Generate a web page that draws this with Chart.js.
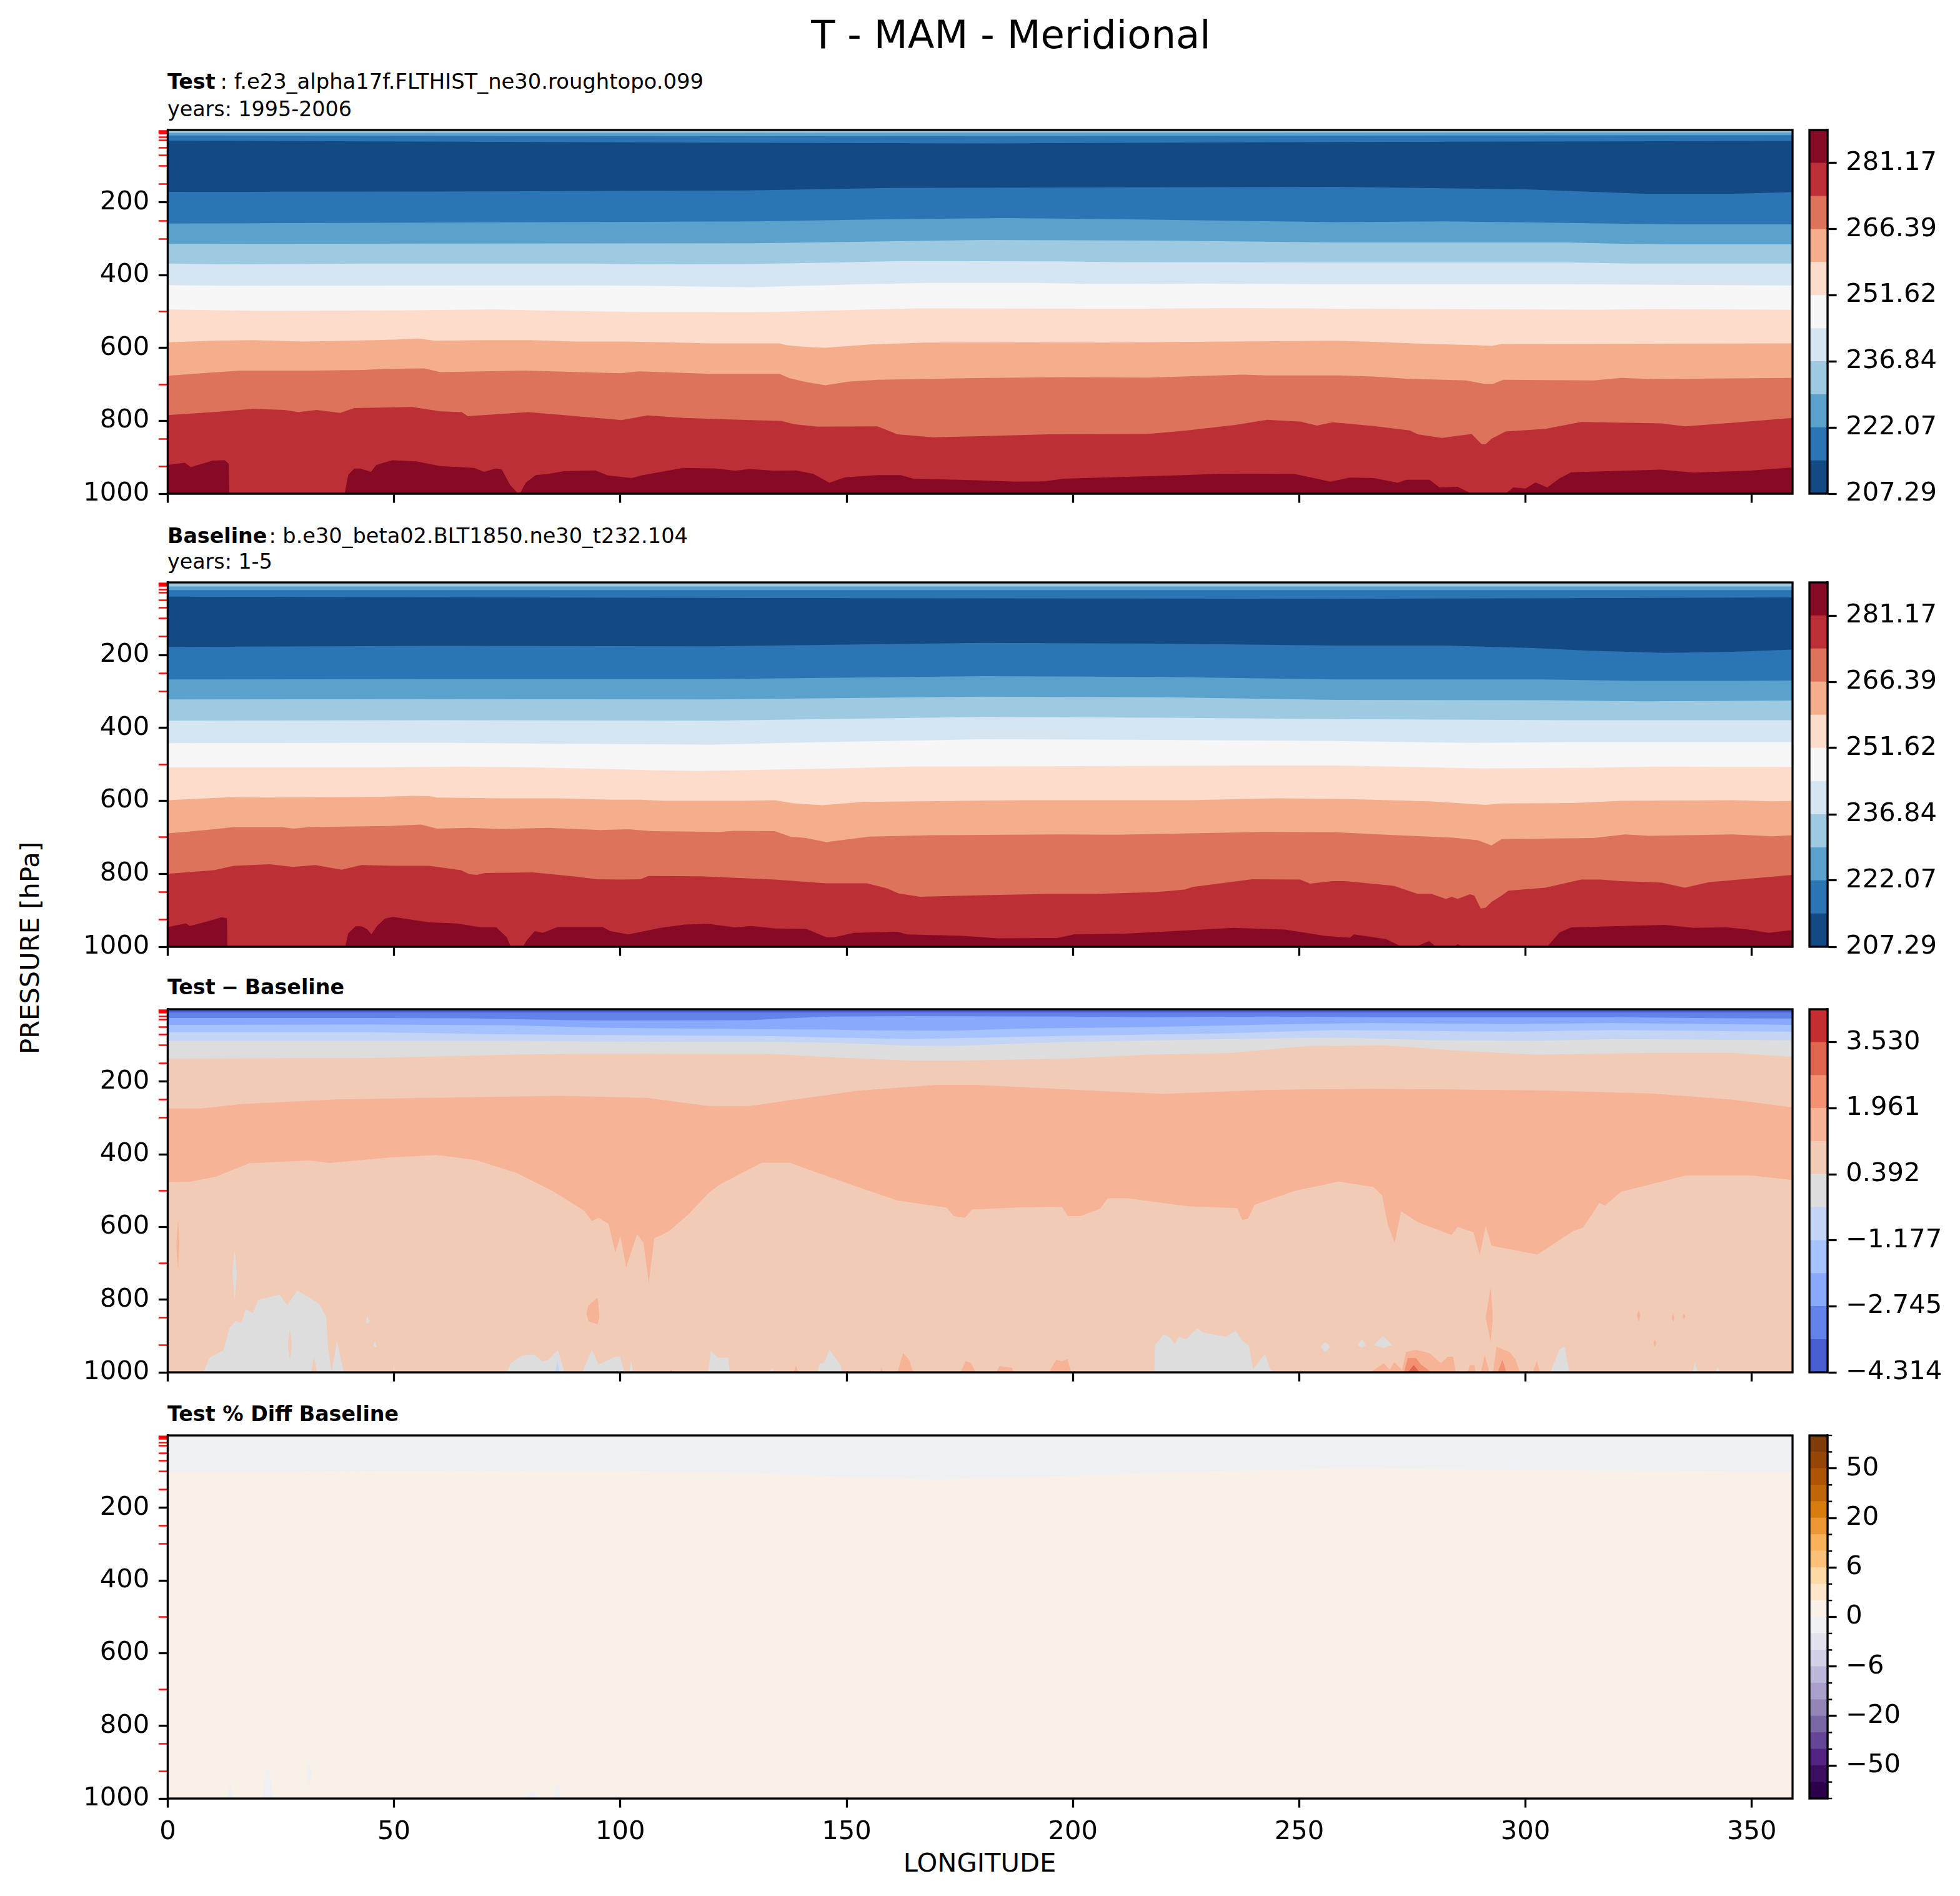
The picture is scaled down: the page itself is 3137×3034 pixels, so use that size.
<!DOCTYPE html>
<html>
<head>
<meta charset="UTF-8">
<title>T - MAM - Meridional</title>
<script src="https://cdn.jsdelivr.net/npm/chart.js"></script>
<style>
    body { margin: 0; background: #fff; }
    #fig { position: relative; width: 3137px; height: 3034px; overflow: hidden; }
    canvas { position: absolute; }
    .t { position: absolute; white-space: nowrap; font-family: "DejaVu Sans"; line-height: 1; color: #000; transform: translateY(-50%); }
    .small { font-size: 33.8px; left: 268px; }
    .small b { margin-right: 8px; font-size: 33.3px; }
    .years { font-size: 33.3px; }
    .label { font-size: 41.67px; }
</style>
</head>
<body>
<div id="fig">
    <div class="t" style="font-size:62.5px;left:1618px;top:56px;transform:translate(-50%,-50%)">T - MAM - Meridional</div>
    <div class="t small" style="top:131px"><b>Test</b>: f.e23_alpha17f.FLTHIST_ne30.roughtopo.099</div>
    <div class="t small years" style="top:175px">years: 1995-2006</div>
    <div class="t small" style="top:858px;font-size:33.6px"><b style="margin-right:3px">Baseline</b>: b.e30_beta02.BLT1850.ne30_t232.104</div>
    <div class="t small years" style="top:899px">years: 1-5</div>
    <div class="t small" style="top:1580px"><b style="word-spacing:-2px">Test − Baseline</b></div>
    <div class="t small" style="top:2263px"><b>Test % Diff Baseline</b></div>
    <div class="t label" style="left:48px;top:1517px;transform:translate(-50%,-50%) rotate(-90deg)">PRESSURE [hPa]</div>
    <div class="t label" style="left:1568px;top:2981px;transform:translate(-50%,-50%)">LONGITUDE</div>
</div>

<script>
// axis ticks
const lonTicks = [0, 50, 100, 150, 200, 250, 300, 350];
const pressureTicks = [3, 5, 7, 10, 20, 30, 50, 70, 100, 150, 200, 250, 300, 400, 500, 600, 700, 800, 850, 925, 1000];
const pressureLabels = [200, 400, 600, 800, 1000];
const LON_MAX = 359, P_TOP = 1, P_BOTTOM = 1000;

// Test panel: contour edges, top to bottom (longitude / pressure)
const t2Lon = [0, 359], t2P = [9, 8];
const t3Lon = [0, 130, 359], t3P = [16, 18, 15];
const t4Lon = [0, 128, 180, 258, 359], t4P = [30, 36, 38, 34, 31];
const t5Lon = [0, 60, 128, 160, 200, 258, 300, 326, 346, 359], t5P = [171, 170, 167, 160, 159, 157, 164, 176, 176, 172];
const t6Lon = [0, 130, 160, 185, 210, 258, 282, 302, 319, 333, 359], t6P = [258, 252, 246, 243, 246, 254, 252, 255, 258, 260, 260];
const t7Lon = [0, 130, 180, 220, 258, 309, 319, 333, 359], t7P = [314, 312, 303, 305, 310, 310, 313, 315, 315];
const t8Lon = [0, 12.6, 45, 93, 105, 128.6, 148, 162, 197, 209.5, 258, 310, 323, 359];
const t8P = [368, 370, 368, 368, 370, 369, 365, 361, 362, 364, 365, 365, 368, 368];
const t9Lon = [0, 14, 93, 105, 128.6, 137, 153, 168, 191, 206, 229, 258, 310, 359];
const t9P = [427, 429, 428, 429, 433, 430, 425, 421, 421, 424, 423, 425, 425, 428];
const t10Lon = [0, 22, 52, 72, 94, 105, 128.6, 136.6, 152.4, 165.6, 204, 216, 235, 250.8, 258, 316, 328, 359];
const t10P = [494, 498, 496, 494, 499, 501, 502, 500, 495, 491, 492, 492, 490, 491, 492, 495, 493, 495];
const t11Lon = [0, 10, 18.8, 30, 40, 50, 55.4, 59, 70, 80, 90, 100, 110, 120, 128.6, 135.2, 136.6, 141, 145.3, 155, 167.3, 190.2, 206.9, 226.2, 257.8, 266.4, 275, 288.5, 292.5, 294.7, 359];
const t11P = [584, 580, 578, 582, 580, 577, 574, 580, 578, 578, 582, 582, 584, 587, 587, 587, 592, 597, 599, 590, 585, 584, 585, 583, 580, 583, 587, 592, 594, 589, 587];
const t12Lon = [0, 10, 16, 32, 43.4, 47.8, 56.7, 60.2, 78.7, 87.5, 100, 104.2, 120, 128.6, 135.2, 137.4, 141, 145.3, 150.6, 156.8, 176.1, 197.2, 216.5, 237.6, 242.9, 258.7, 266.4, 273.6, 286.8, 290.7, 292.9, 295.1, 315, 321.1, 328.2, 359];
const t12P = [676, 667, 662, 662, 660, 657, 656, 666, 662, 665, 669, 664, 671, 671, 671, 683, 693, 702, 692, 687, 683, 680, 681, 673, 675, 675, 678, 684, 689, 698, 698, 687, 689, 682, 685, 682];
const t13Lon = [0, 10, 18.8, 25.8, 28.9, 32.9, 38.1, 41.2, 54, 60.2, 65, 66.3, 79.6, 87.5, 100.3, 106, 113.9, 128.6, 135.6, 138.3, 143.6, 156.8, 160.3, 161.2, 169, 179.6, 194.6, 216.5, 225.3, 235.9, 242.9, 250.4, 253.9, 257.4, 266.4, 274.4, 276.2, 281.5, 288.1, 290.3, 291.2, 292.5, 295.6, 304.4, 312.3, 330, 335.2, 345.8, 359];
const t13P = [784, 776, 767, 770, 776, 770, 778, 765, 762, 774, 776, 787, 776, 784, 798, 785, 792, 798, 800, 809, 816, 815, 832, 837, 845, 842, 837, 836, 826, 811, 797, 802, 813, 804, 814, 826, 837, 847, 836, 864, 864, 849, 829, 822, 803, 807, 815, 805, 792];
const t14Lon = [0, 3.8, 5.1, 10, 12.6, 13.5, 13.6, 39.1, 39.9, 41.2, 42.5, 44.9, 46.1, 49.6, 54.9, 60.2, 67.7, 69.9, 72.5, 73.8, 75.6, 77.4, 77.8, 79.1, 81.3, 84, 87.5, 94.5, 97.2, 102.5, 105, 113.9, 121, 125.4, 128.6, 133.9, 138.8, 142.7, 146.2, 149.7, 156.8, 162, 164.7, 178.7, 187.5, 193.7, 198, 222.7, 233.2, 249, 256.9, 261.2, 266.4, 271.8, 273.6, 278.8, 281, 285, 288.1, 295.6, 297.3, 300, 302.2, 304.8, 307.5, 310.1, 330, 337, 349.3, 359];
const t14P = [921, 915, 927, 909, 908, 918, 1000, 1000, 948, 931, 931, 940, 921, 908, 911, 924, 929, 940, 931, 933, 975, 1000, 1000, 970, 949, 946, 938, 936, 950, 957, 949, 929, 931, 937, 932, 937, 936, 946, 970, 955, 949, 949, 959, 963, 967, 966, 959, 950, 945, 946, 967, 956, 957, 970, 962, 962, 983, 981, 1000, 1000, 983, 986, 969, 983, 958, 941, 934, 942, 937, 928];

// Baseline panel
const b2Lon = [0, 359], b2P = [12, 12];
const b3Lon = [0, 359], b3P = [22, 22];
const b4Lon = [0, 130, 258, 320, 359], b4P = [40, 44, 46, 44, 42];
const b5Lon = [0, 60, 120, 180, 220, 258, 282, 302, 314, 331, 346, 359], b5P = [178, 175, 176, 167, 169, 174, 174, 181, 188, 194, 191, 185];
const b6Lon = [0, 60, 120, 180, 220, 258, 304, 324, 346, 359], b6P = [267, 266, 266, 258, 260, 267, 267, 271, 271, 270];
const b7Lon = [0, 60, 120, 180, 220, 258, 305, 326, 359], b7P = [322, 321, 322, 314, 316, 323, 324, 327, 325];
const b8Lon = [0, 60, 120, 180, 220, 258, 311, 359], b8P = [380, 379, 380, 370, 372, 376, 379, 379];
const b9Lon = [0, 60, 120, 140, 180, 220, 258, 273.6, 288, 310.6, 359], b9P = [442, 441, 446, 440, 431, 433, 436, 439, 441, 439, 439];
const b10Lon = [0, 46, 64.8, 80.6, 94.8, 107, 116.8, 134.1, 147.3, 164, 223.8, 238.7, 257.7, 275, 290.3, 315, 328, 359];
const b10P = [508, 508, 506, 508, 512, 516, 518, 514, 511, 506, 504, 503, 503, 507, 511, 509, 506, 507];
const b11Lon = [0, 13.7, 21.6, 46.3, 54.2, 57.8, 59.5, 73.6, 86, 98.3, 104.5, 109.7, 127, 134.1, 138.5, 144.7, 153.5, 188.6, 225.6, 245, 261, 278.8, 291.2, 294.7, 310.6, 321.1, 345.8, 354.6, 359];
const b11P = [598, 590, 591, 589, 586, 587, 591, 593, 593, 597, 597, 600, 600, 598, 607, 612, 603, 598, 598, 593, 595, 601, 611, 607, 606, 600, 598, 601, 600];
const b12Lon = [0, 4.9, 10.2, 14.6, 25.2, 27.8, 31.3, 49, 56, 59.5, 66.6, 73.6, 84.2, 95.6, 101.8, 107, 122, 124.9, 134.1, 137.6, 141, 145.5, 155, 169, 197, 209.7, 242.3, 258.1, 269.2, 284.1, 289.4, 292.5, 294.7, 315, 322, 327.3, 345.8, 354.6, 359];
const b12P = [689, 684, 678, 672, 672, 676, 672, 669, 665, 676, 674, 677, 674, 680, 678, 683, 685, 682, 683, 698, 702, 713, 698, 694, 692, 693, 685, 686, 693, 701, 708, 722, 705, 702, 692, 696, 692, 697, 694];
const b13Lon = [0, 10.2, 14.6, 22.5, 27.8, 32.6, 38.4, 42.8, 50.7, 57.8, 64.8, 66.6, 68.3, 70.1, 80.7, 89.5, 94.8, 100, 104.5, 106.2, 117.7, 134.1, 145.5, 154.5, 159, 161.5, 166.2, 179, 194, 204.6, 218.5, 224.7, 226.5, 239.6, 250.2, 252.4, 257.2, 260.3, 270.9, 276.2, 279.3, 282.4, 283.7, 285, 287.7, 288.7, 290.1, 291.2, 292.5, 294.7, 296.2, 304.4, 312.3, 316.7, 321.1, 330, 335.2, 340.5, 359];
const b13P = [800, 790, 778, 774, 781, 776, 789, 776, 778, 778, 790, 801, 803, 798, 796, 807, 815, 816, 815, 806, 807, 816, 826, 826, 840, 854, 863, 859, 855, 855, 850, 843, 836, 815, 816, 827, 820, 820, 833, 855, 855, 869, 863, 869, 856, 860, 895, 893, 877, 860, 846, 838, 816, 816, 820, 824, 838, 823, 803];
const b14Lon = [0, 4, 4.9, 9.3, 11.9, 13.1, 13.2, 39.2, 39.9, 41.5, 42.8, 44.1, 45, 46.3, 48, 49.8, 57.8, 63.9, 69.2, 72.6, 74.9, 75.8, 78.5, 79.3, 81.1, 82.9, 86.1, 96.1, 97.8, 101.8, 108.9, 114.2, 119.4, 125.2, 129, 134.1, 141.1, 145.5, 147.3, 151.6, 161.4, 163.2, 175.4, 183.4, 196.6, 200.2, 211.6, 222.2, 235.4, 246.8, 255.6, 261.2, 262.1, 269.2, 272.7, 275.8, 278.7, 280.2, 284.1, 285, 286.3, 304.8, 307.5, 310.1, 330.8, 337, 344.5, 349.3, 353.7, 359];
const b14P = [946, 936, 943, 929, 919, 922, 1000, 1000, 963, 944, 944, 952, 966, 942, 923, 918, 933, 936, 947, 947, 974, 1000, 1000, 983, 957, 962, 946, 946, 957, 966, 948, 939, 937, 947, 943, 950, 951, 974, 974, 962, 959, 966, 970, 977, 976, 966, 964, 957, 948, 953, 970, 975, 966, 979, 1000, 1000, 984, 1000, 1000, 993, 1000, 1000, 961, 947, 940, 948, 947, 953, 962, 954];

// Test - Baseline panel
const d2Lon = [0, 359], d2P = [10, 10];
const d3Lon = [0, 45, 66, 75, 90, 97, 128.6, 137, 146, 164, 199, 217, 243, 266, 293, 319, 345, 359];
const d3P = [25, 25, 26, 28, 31, 32, 31, 26, 21, 20, 21, 23, 21, 23, 23, 23, 26, 27];
const d4Lon = [0, 45, 75, 97, 134, 146, 155, 173, 190, 217, 243, 258, 266, 297, 319, 359];
const d4P = [44, 43, 45, 52, 56, 57, 59, 60, 54, 50, 43, 40, 39, 42, 39, 44];
const d5Lon = [0, 45, 75, 97, 134, 146, 164, 173, 199, 234, 258, 297, 319, 359];
const d5P = [64, 64, 70, 72, 75, 79, 83, 81, 74, 67, 58, 63, 58, 63];
const d6Lon = [0, 45, 75, 97, 134, 146, 164, 173, 199, 234, 258, 279, 302, 319, 359];
const d6P = [88, 88, 88, 90, 91, 93, 101, 102, 91, 83, 79, 86, 88, 83, 86];
const d7Lon = [0, 45, 75, 93, 134, 146, 164, 175, 199, 216, 234, 252, 260, 269, 284, 302, 328, 346, 359];
const d7P = [137, 135, 126, 123, 124, 133, 142, 142, 137, 126, 122, 102, 101, 100, 114, 126, 121, 121, 132];
const d8Lon = [0, 7.5, 16.3, 37.4, 86.8, 106, 119.4, 126.4, 128.6, 134.3, 137.4, 145.3, 152.6, 170, 178.5, 207.7, 220, 242.9, 266.4, 302.6, 328.2, 345.8, 359];
const d8P = [274, 274, 262, 249, 239, 245, 267, 268, 267, 257, 251, 238, 225, 209, 209, 227, 234, 223, 220, 224, 233, 250, 271];
const d9Lon = [0, 4.8, 10.6, 18, 31.3, 35.7, 49, 59.5, 68, 77, 85, 92, 93.7, 95.2, 97.4, 98.9, 100, 101.3, 103.7, 105.1, 106.3, 107.5, 110.6, 115, 119.4, 122, 128.2, 131.3, 137.4, 143.6, 155, 161.2, 172.1, 173.7, 176.1, 177.7, 188.4, 197.6, 198.9, 201.6, 206, 207.7, 212.1, 225.3, 236.3, 237.4, 238.7, 240.1, 249, 258.7, 266.4, 268.3, 269.6, 271.1, 272.5, 276.2, 283.7, 285, 288.5, 289.9, 291.2, 292.5, 302.6, 310.6, 312.8, 316.3, 317.6, 321.1, 335.2, 350.2, 359];
const d9P = [477, 476, 462, 425, 417, 424, 409, 402, 416, 451, 501, 555, 584, 575, 591, 671, 624, 711, 620, 642, 754, 631, 613, 566, 508, 483, 443, 423, 423, 451, 501, 527, 547, 570, 575, 552, 546, 545, 570, 570, 550, 521, 521, 543, 548, 581, 577, 539, 501, 475, 490, 513, 594, 643, 557, 587, 622, 600, 615, 678, 597, 652, 676, 611, 601, 534, 541, 503, 459, 459, 471];

// bumps standing on the 1000 hPa line, separated by 1000 values
const greyLon = [7.9, 9.2, 12.3, 13.7, 15, 16.3, 17.2, 18.8, 20, 24.7, 26.4, 28.6, 31.3, 33.5, 35, 35.4, 36.2, 37.4, 38.9, 49.8, 50, 50.2, 74.9, 75.8, 78.4, 81, 82.8, 84.1, 86.2, 87.7, 91.6, 93.7, 95.2, 99, 100, 100.9, 102, 102.4, 102.8, 119.4, 120, 121.6, 123.8, 124.2, 133, 133.5, 134, 143.6, 144, 145, 146.2, 148.7, 149, 218, 218.1, 220, 221.4, 222.5, 223.4, 225, 227.5, 228.8, 233.7, 236, 237.4, 238.9, 239.8, 242.4, 243.6, 244.8, 305.5, 307.5, 308.6, 309.7, 337, 337.4, 338, 342, 342.5, 343];
const greyP = [1000, 960, 940, 877, 859, 864, 826, 837, 801, 786, 815, 775, 794, 812, 848, 927, 1000, 913, 1000, 1000, 978, 1000, 1000, 975, 953, 951, 970, 966, 938, 1000, 1000, 938, 978, 956, 958, 1000, 1000, 967, 1000, 1000, 941, 960, 960, 1000, 1000, 988, 1000, 1000, 976, 974, 938, 981, 1000, 1000, 927, 895, 904, 922, 902, 909, 879, 891, 902, 885, 913, 927, 992, 949, 992, 1000, 1000, 937, 928, 1000, 1000, 972, 1000, 1000, 985, 1000];
const peachLon = [31.7, 32.3, 33], peachP = [1000, 956, 1000];
const paleBlueLon = [85.6, 86.1, 86.6], paleBlueP = [1000, 967, 1000];
const orangeLon = [111, 111.2, 111.5, 138.3, 138.8, 139.3, 155, 155.2, 155.4, 157.5, 157.7, 158, 161.2, 162.5, 163.8, 164.7, 175.2, 176.3, 177.5, 178.5, 183.1, 183.8, 186.6, 186.8, 194.7, 196.3, 197.6, 198.8, 199.6, 265.6, 268.7, 270, 271, 272.7, 273.6, 275.8, 278.8, 281.3, 282.8, 284, 284.6, 287.2, 287.7, 288.7, 289, 290.1, 291, 292, 292.8, 293.6, 296.5, 297.8, 298.8, 301.6, 302.5, 303.2];
const orangeP = [1000, 990, 1000, 1000, 981, 1000, 1000, 992, 1000, 1000, 988, 1000, 1000, 947, 965, 1000, 1000, 969, 974, 1000, 1000, 983, 988, 1000, 1000, 965, 970, 963, 1000, 1000, 975, 993, 972, 993, 944, 938, 947, 975, 957, 957, 1000, 1000, 980, 980, 1000, 1000, 952, 1000, 1000, 930, 944, 965, 1000, 1000, 968, 1000];
const deepOrangeLon = [273.1, 274, 275.8, 276.9, 279.3, 293.8, 294.9, 295.8], deepOrangeP = [1000, 961, 961, 979, 1000, 1000, 966, 1000];
const coralLon = [274, 275.3, 276.6], coralP = [1000, 980, 1000];

// closed patches away from the surface: longitudes, upper edge, lower edge
const greyPatches = [
    [[14.3, 14.8, 15.3], [720, 664, 730], [730, 801, 720]],
    [[43.8, 44.1, 44.6], [860, 846, 860], [860, 868, 860]],
    [[45.4, 45.8, 46.2], [925, 915, 930], [925, 932, 930]],
    [[254.7, 255.8, 256.8], [930, 916, 930], [930, 945, 930]],
    [[263, 263.8, 264.7], [925, 909, 925], [925, 933, 925]],
    [[266.5, 268.5, 270.5], [925, 900, 925], [925, 933, 925]]
];
const orangePatches = [
    [[1.9, 2.3, 2.6], [650, 581, 640], [650, 718, 640]],
    [[92.5, 93, 95, 95.4], [837, 815, 794, 848], [837, 860, 868, 848]],
    [[291.2, 292.3, 292.8], [849, 765, 849], [849, 916, 849]],
    [[324.6, 325, 325.4], [845, 828, 845], [845, 860, 845]],
    [[328.3, 328.6, 328.9], [920, 909, 920], [920, 931, 920]],
    [[332.3, 332.6, 332.9], [850, 838, 850], [850, 861, 850]],
    [[334.7, 335, 335.3], [846, 838, 846], [846, 855, 846]]
];
const peachPatches = [
    [[26.5, 27, 27.4], [925, 880, 925], [925, 967, 925]]
];

// Test % Diff Baseline panel
const pct2Lon = [0, 50, 100, 130, 150, 170, 200, 225, 260, 300, 359], pct2P = [101, 99, 98, 105, 115, 122, 112, 101, 91, 95, 101];
const pct3Lon = [13.1, 13.8, 14.5, 20.9, 21.6, 22.4, 23.3, 78.6, 79.5, 81.2, 81.8, 85, 86, 87, 98.4, 99.2, 100], pct3P = [1000, 958, 1000, 1000, 925, 917, 1000, 1000, 990, 982, 1000, 1000, 958, 1000, 1000, 989, 1000];
const pctPatchLon = [30.7, 31.2, 31.8], pctPatchUpper = [930, 896, 930], pctPatchLower = [930, 966, 930];

// colour bars
const tempLevels = [207.29, 214.68, 222.07, 229.46, 236.84, 244.23, 251.62, 259.01, 266.39, 273.78, 281.17, 288.56];
const tempTicks = [207.29, 222.07, 236.84, 251.62, 266.39, 281.17];
const tempTickLabels = ['207.29', '222.07', '236.84', '251.62', '266.39', '281.17'];
const diffLevels = [-4.314, -3.530, -2.745, -1.961, -1.177, -0.392, 0.392, 1.177, 1.961, 2.745, 3.530, 4.314];
const diffTicks = [-4.314, -2.745, -1.177, 0.392, 1.961, 3.530];
const diffTickLabels = ['−4.314', '−2.745', '−1.177', '0.392', '1.961', '3.530'];
const pctLevels = [-100, -75, -50, -40, -30, -20, -15, -10, -6, -4, -2, 0, 2, 4, 6, 10, 15, 20, 30, 40, 50, 75, 100];
const pctTickLevels = [-50, -20, -6, 0, 6, 20, 50];

const tempColors = ['#134a83', '#2b75b5', '#5aa1cc', '#9dcae1', '#d5e6f2', '#f6f6f6', '#fddccb', '#f5ae8c', '#dd735b', '#bd2f36', '#860a25'];
const diffColors = ['#4a5ed3', '#6383ea', '#88a9fc', '#a6c2ff', '#c3d4f5', '#dddddd', '#f2cbb7', '#f6b396', '#f39072', '#e0654f', '#c42e30'];
const pctColors = ['#2d004b', '#3d0f61', '#532483', '#654595', '#7a68a6', '#9386b7', '#aaa0cb', '#bdb7d9', '#d0d1e6', '#e2e1ee', '#eff0f4',
    '#f9f1e8', '#fde6c9', '#fed8a5', '#fdc078', '#f9b15a', '#ec9634', '#d97c10', '#c06508', '#ae5405', '#954606', '#7f3b08'];

Chart.defaults.font.family = '"DejaVu Sans"';
Chart.defaults.font.size = 41.67;
Chart.defaults.color = '#000';
Chart.defaults.animation = false;
Chart.defaults.devicePixelRatio = 1;

const LINE_W = 3.3, TICK_LEN = 14.6;
const PLOT_LEFT = 268.4, PLOT_RIGHT = 2869, BAR_LEFT = 2896, BAR_RIGHT = 2925;

// matplotlib style box round the axes
const frame = {
    id: 'frame',
    afterDraw(chart) {
        const a = chart.chartArea, ctx = chart.ctx;
        ctx.save();
        ctx.lineWidth = LINE_W;
        ctx.strokeStyle = '#000';
        ctx.strokeRect(a.left, a.top, a.right - a.left, a.bottom - a.top);
        ctx.restore();
    }
};
// short unlabelled ticks on the percent colour bar
const minorTicks = {
    id: 'minorTicks',
    afterDraw(chart) {
        const y = chart.scales.y, ctx = chart.ctx;
        if (!chart.options.plugins.minorTicks.show) return;
        ctx.save();
        ctx.lineWidth = 2.4;
        ctx.strokeStyle = '#000';
        pctLevels.forEach((v, i) => {
            if (pctTickLevels.includes(v)) return;
            ctx.beginPath();
            ctx.moveTo(chart.chartArea.right, y.getPixelForValue(i));
            ctx.lineTo(chart.chartArea.right + 7.3, y.getPixelForValue(i));
            ctx.stroke();
        });
        ctx.restore();
    }
};
Chart.register(frame, minorTicks);

function addCanvas(left, top, width, height) {
    const c = document.createElement('canvas');
    c.width = width;
    c.height = height;
    c.style.left = left + 'px';
    c.style.top = top + 'px';
    c.style.width = width + 'px';
    c.style.height = height + 'px';
    document.getElementById('fig').appendChild(c);
    return c;
}

function toPoints(lon, p) {
    return lon.map((x, i) => ({ x: x, y: p[i] }));
}

// painter's order: each edge fills down to 1000 hPa, patches fill between two edges
function edgeLayer(lon, p, color) {
    return [{ data: toPoints(lon, p), backgroundColor: color, fill: { value: P_BOTTOM } }];
}
function patchLayer(patch, color) {
    return [
        { data: toPoints(patch[0], patch[1]), backgroundColor: color, fill: '+1' },
        { data: toPoints(patch[0], patch[2]), fill: false }
    ];
}

// keep the tick labels from pushing the plot area in, so it lands on the exact pixels
function pinY(s, width) {
    s.width = width;
    s.paddingTop = 0;
    s.paddingBottom = 0;
}

function drawPanel(top, bottom, layers, showLonLabels) {
    const flat = layers.flat();
    flat.forEach((d, i) => {
        d.order = flat.length - i;
        d.borderWidth = 0;
        d.pointRadius = 0;
        d.tension = 0;
    });
    const padTop = 20, padRight = 15, xAxisHeight = 90;
    new Chart(addCanvas(0, top - padTop, PLOT_RIGHT + padRight, bottom - top + padTop + xAxisHeight), {
        type: 'line',
        data: { datasets: flat },
        options: {
            responsive: false,
            layout: { padding: { top: padTop, right: padRight, left: 0, bottom: 0 } },
            plugins: { legend: { display: false }, tooltip: { enabled: false }, minorTicks: { show: false } },
            scales: {
                x: {
                    type: 'linear',
                    min: 0,
                    max: LON_MAX,
                    afterBuildTicks: s => { s.ticks = lonTicks.map(v => ({ value: v })); },
                    afterFit: s => { s.height = xAxisHeight; s.paddingLeft = 0; s.paddingRight = 0; },
                    grid: { drawOnChartArea: false, tickLength: TICK_LEN, tickWidth: LINE_W, tickColor: '#000' },
                    border: { color: '#000', width: LINE_W },
                    ticks: { autoSkip: false, maxRotation: 0, padding: 14.6, callback: v => showLonLabels ? String(v) : '' }
                },
                y: {
                    type: 'linear',
                    reverse: true,
                    min: P_TOP,
                    max: P_BOTTOM,
                    afterBuildTicks: s => { s.ticks = pressureTicks.map(v => ({ value: v })); },
                    afterFit: s => pinY(s, PLOT_LEFT),
                    grid: {
                        drawOnChartArea: false,
                        tickLength: TICK_LEN,
                        tickWidth: c => pressureLabels.includes(c.tick.value) ? LINE_W : 2.4,
                        tickColor: c => pressureLabels.includes(c.tick.value) ? '#000' : '#f00'
                    },
                    border: { color: '#000', width: LINE_W },
                    ticks: { autoSkip: false, padding: 14.6, callback: v => pressureLabels.includes(v) ? String(v) : '' }
                }
            }
        }
    });
}

// colour bar: one floating bar per contour level
function drawColorBar(top, bottom, colors, lows, highs, yMin, yMax, ticks, labels, minor) {
    const padTop = 30, padLeft = 10;
    const canvasWidth = 3137 - BAR_LEFT + padLeft;
    new Chart(addCanvas(BAR_LEFT - padLeft, top - padTop, canvasWidth, bottom - top + 2 * padTop), {
        type: 'bar',
        data: {
            labels: [''],
            datasets: colors.map((col, i) => ({
                data: [[lows[i], highs[i]]],
                backgroundColor: col,
                barPercentage: 1,
                categoryPercentage: 1,
                grouped: false
            }))
        },
        options: {
            responsive: false,
            layout: { padding: { top: padTop, bottom: padTop, left: padLeft, right: 0 } },
            plugins: { legend: { display: false }, tooltip: { enabled: false }, minorTicks: { show: minor } },
            scales: {
                x: { display: false },
                y: {
                    position: 'right',
                    min: yMin,
                    max: yMax,
                    afterBuildTicks: s => { s.ticks = ticks.map(v => ({ value: v })); },
                    afterFit: s => pinY(s, canvasWidth - padLeft - (BAR_RIGHT - BAR_LEFT)),
                    grid: { drawOnChartArea: false, tickLength: TICK_LEN, tickWidth: LINE_W, tickColor: '#000' },
                    border: { color: '#000', width: LINE_W },
                    ticks: { autoSkip: false, padding: 14.6, callback: (v, i) => labels[i] }
                }
            }
        }
    });
}

const c = tempColors, e = diffColors;

drawPanel(208, 790, [
    edgeLayer([0, 359], [P_TOP, P_TOP], c[3]),
    edgeLayer(t2Lon, t2P, c[2]), edgeLayer(t3Lon, t3P, c[1]), edgeLayer(t4Lon, t4P, c[0]),
    edgeLayer(t5Lon, t5P, c[1]), edgeLayer(t6Lon, t6P, c[2]), edgeLayer(t7Lon, t7P, c[3]),
    edgeLayer(t8Lon, t8P, c[4]), edgeLayer(t9Lon, t9P, c[5]), edgeLayer(t10Lon, t10P, c[6]),
    edgeLayer(t11Lon, t11P, c[7]), edgeLayer(t12Lon, t12P, c[8]), edgeLayer(t13Lon, t13P, c[9]),
    edgeLayer(t14Lon, t14P, c[10])
], false);

drawPanel(932, 1515, [
    edgeLayer([0, 359], [P_TOP, P_TOP], c[3]),
    edgeLayer(b2Lon, b2P, c[2]), edgeLayer(b3Lon, b3P, c[1]), edgeLayer(b4Lon, b4P, c[0]),
    edgeLayer(b5Lon, b5P, c[1]), edgeLayer(b6Lon, b6P, c[2]), edgeLayer(b7Lon, b7P, c[3]),
    edgeLayer(b8Lon, b8P, c[4]), edgeLayer(b9Lon, b9P, c[5]), edgeLayer(b10Lon, b10P, c[6]),
    edgeLayer(b11Lon, b11P, c[7]), edgeLayer(b12Lon, b12P, c[8]), edgeLayer(b13Lon, b13P, c[9]),
    edgeLayer(b14Lon, b14P, c[10])
], false);

drawPanel(1615, 2196, [
    edgeLayer([0, 359], [P_TOP, P_TOP], e[0]),
    edgeLayer(d2Lon, d2P, e[1]), edgeLayer(d3Lon, d3P, e[2]), edgeLayer(d4Lon, d4P, e[3]),
    edgeLayer(d5Lon, d5P, e[4]), edgeLayer(d6Lon, d6P, e[5]), edgeLayer(d7Lon, d7P, e[6]),
    edgeLayer(d8Lon, d8P, e[7]), edgeLayer(d9Lon, d9P, e[6]),
    edgeLayer(greyLon, greyP, e[5]), edgeLayer(peachLon, peachP, e[6]), edgeLayer(paleBlueLon, paleBlueP, e[4]),
    edgeLayer(orangeLon, orangeP, e[7]), edgeLayer(deepOrangeLon, deepOrangeP, e[8]), edgeLayer(coralLon, coralP, e[9]),
    ...greyPatches.map(p => patchLayer(p, e[5])),
    ...orangePatches.map(p => patchLayer(p, e[7])),
    ...peachPatches.map(p => patchLayer(p, e[6]))
], false);

drawPanel(2297, 2878, [
    edgeLayer([0, 359], [P_TOP, P_TOP], pctColors[10]),
    edgeLayer(pct2Lon, pct2P, pctColors[11]),
    edgeLayer(pct3Lon, pct3P, pctColors[10]),
    patchLayer([pctPatchLon, pctPatchUpper, pctPatchLower], pctColors[10])
], true);

drawColorBar(208, 790, tempColors, tempLevels.slice(0, -1), tempLevels.slice(1), 207.29, 288.56, tempTicks, tempTickLabels, false);
drawColorBar(932, 1515, tempColors, tempLevels.slice(0, -1), tempLevels.slice(1), 207.29, 288.56, tempTicks, tempTickLabels, false);
drawColorBar(1615, 2196, diffColors, diffLevels.slice(0, -1), diffLevels.slice(1), -4.314, 4.314, diffTicks, diffTickLabels, false);

// percent bar is evenly spaced by level index, not by value
const pctIndex = pctLevels.map((v, i) => i);
drawColorBar(2297, 2878, pctColors, pctIndex.slice(0, -1), pctIndex.slice(1), 0, pctLevels.length - 1,
    pctTickLevels.map(v => pctLevels.indexOf(v)), pctTickLevels.map(v => String(v).replace('-', '−')), true);
</script>
</body>
</html>
